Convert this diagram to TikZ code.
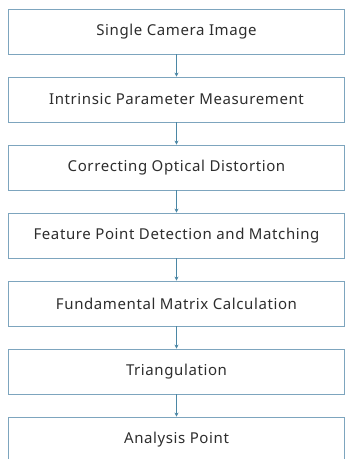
\documentclass[tikz,border=0pt]{standalone}
\usepackage{fontspec}
\setmainfont{Noto Sans}[LetterSpace=4]
\usetikzlibrary{arrows.meta,positioning}
\definecolor{boxline}{RGB}{125,165,190}
\definecolor{arrowline}{RGB}{75,135,165}
\definecolor{textgray}{RGB}{45,45,45}

\begin{document}
\begin{tikzpicture}[node distance=68pt,
    every node/.style={draw=boxline, line width=0.8pt, rectangle, align=center,
      minimum width=336pt, minimum height=45pt, text=textgray, font=\fontsize{15}{17}\selectfont},
    flow/.style={arrowline, line width=0.8pt, -{Stealth[length=4pt,width=4pt]}}]

  \useasboundingbox (0,0) rectangle (345pt,-459pt);

  \node (img) at (176.5pt,-31.5pt) {Single Camera Image};
  \node[below of=img] (intr) {Intrinsic Parameter Measurement};
  \node[below of=intr] (dist) {Correcting Optical Distortion};
  \node[below of=dist] (feat) {Feature Point Detection and Matching};
  \node[below of=feat] (fund) {Fundamental Matrix Calculation};
  \node[below of=fund] (tri) {Triangulation};
  \node[below of=tri] (pts) {Analysis Point};

  \draw[flow] (img) -- (intr);
  \draw[flow] (intr) -- (dist);
  \draw[flow] (dist) -- (feat);
  \draw[flow] (feat) -- (fund);
  \draw[flow] (fund) -- (tri);
  \draw[flow] (tri) -- (pts);

\end{tikzpicture}
\end{document}
